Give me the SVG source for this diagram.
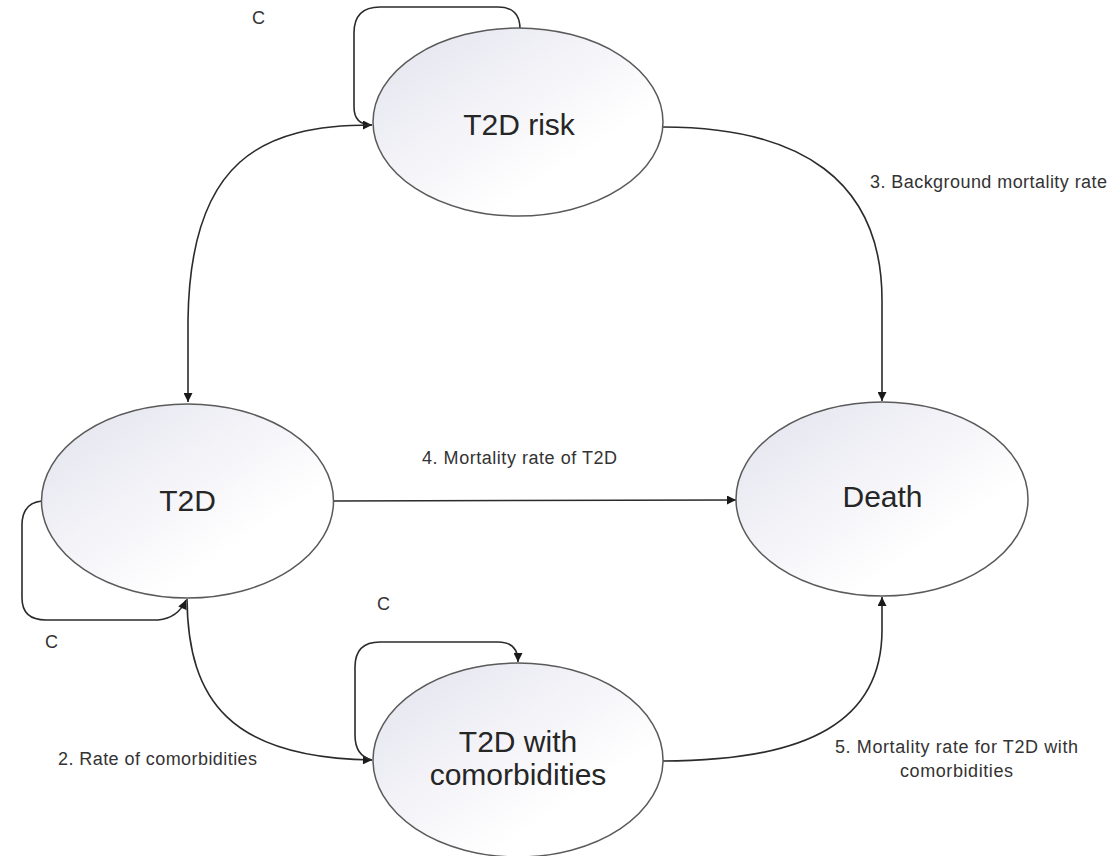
<svg xmlns="http://www.w3.org/2000/svg" width="1114" height="856" viewBox="0 0 1114 856">
  <style>
    .node ellipse { fill: url(#nodeFill); stroke: #5a5a5a; stroke-width: 1.5; }
    .node text { font-family: "Liberation Sans", Arial, sans-serif; font-size: 30px; fill: #262626; text-anchor: middle; }
    .edge { fill: none; stroke: #2b2b2b; stroke-width: 1.6; }
    .arr { marker-end: url(#arrow); }
    .lbl { font-family: "Liberation Sans", Arial, sans-serif; font-size: 18px; fill: #333333; }
  </style>
  <defs>
    <linearGradient id="nodeFill" x1="0" y1="0" x2="1" y2="1">
      <stop offset="0" stop-color="#e2e2ee"/>
      <stop offset="0.7" stop-color="#ffffff"/>
    </linearGradient>
    <marker id="arrow" viewBox="0 0 10 10" refX="10" refY="5" markerWidth="10" markerHeight="9" markerUnits="userSpaceOnUse" orient="auto">
      <path d="M0,0 L10,5 L0,10 Z" fill="#1a1a1a"/>
    </marker>
  </defs>
  <rect width="1114" height="856" fill="#ffffff"/>

  <g id="connectors">
    <path id="loop-risk" class="edge arr" d="M520,29 Q520,7 498,7 L380,7 Q354,7 354,33 L354,107 Q354,125 372,125"/>
    <path id="risk-t2d" class="edge arr" d="M372,125 C262,125 190,160 188,320 L188,402"/>
    <path id="risk-death" class="edge arr" d="M663,127 C800,127 882,180 882,300 L882,401"/>
    <path id="t2d-death" class="edge arr" d="M333,501 L736,500"/>
    <path id="loop-t2d" class="edge arr" d="M42,501 Q22,503 22,525 L22,598 Q22,620 46,620 L158,620 Q178,618 186,600"/>
    <path id="t2d-comorb" class="edge arr" d="M187,599 C188,700 230,758 372,760"/>
    <path id="loop-comorb" class="edge arr" d="M372,760 Q355,756 355,735 L355,667 Q355,642 380,642 L498,642 Q518,642 518,662"/>
    <path id="comorb-death" class="edge arr" d="M663,761 C810,761 882,720 882,630 L882,597"/>
  </g>

  <g id="labels">
    <text class="lbl" x="252" y="24">C</text>
    <text class="lbl" x="45" y="648">C</text>
    <text class="lbl" x="377" y="610">C</text>
    <text class="lbl" x="870" y="188" textLength="237" lengthAdjust="spacing">3. Background mortality rate</text>
    <text class="lbl" x="422" y="464" textLength="195" lengthAdjust="spacing">4. Mortality rate of T2D</text>
    <text class="lbl" x="58" y="765" textLength="199" lengthAdjust="spacing">2. Rate of comorbidities</text>
    <text class="lbl" x="835" y="753" textLength="243" lengthAdjust="spacing">5. Mortality rate for T2D with</text>
    <text class="lbl" x="900" y="777" textLength="113" lengthAdjust="spacing">comorbidities</text>
  </g>

  <g id="node-t2d-risk" class="node">
    <ellipse cx="518" cy="122" rx="145" ry="94"/>
    <text x="519" y="135">T2D risk</text>
  </g>
  <g id="node-t2d" class="node">
    <ellipse cx="187.5" cy="501" rx="146" ry="97"/>
    <text x="187.5" y="511">T2D</text>
  </g>
  <g id="node-death" class="node">
    <ellipse cx="882" cy="499" rx="146" ry="97"/>
    <text x="882.5" y="507">Death</text>
  </g>
  <g id="node-t2d-comorb" class="node">
    <ellipse cx="518" cy="760" rx="145" ry="97"/>
    <text x="518" y="752">T2D with</text>
    <text x="518" y="785">comorbidities</text>
  </g>
</svg>
